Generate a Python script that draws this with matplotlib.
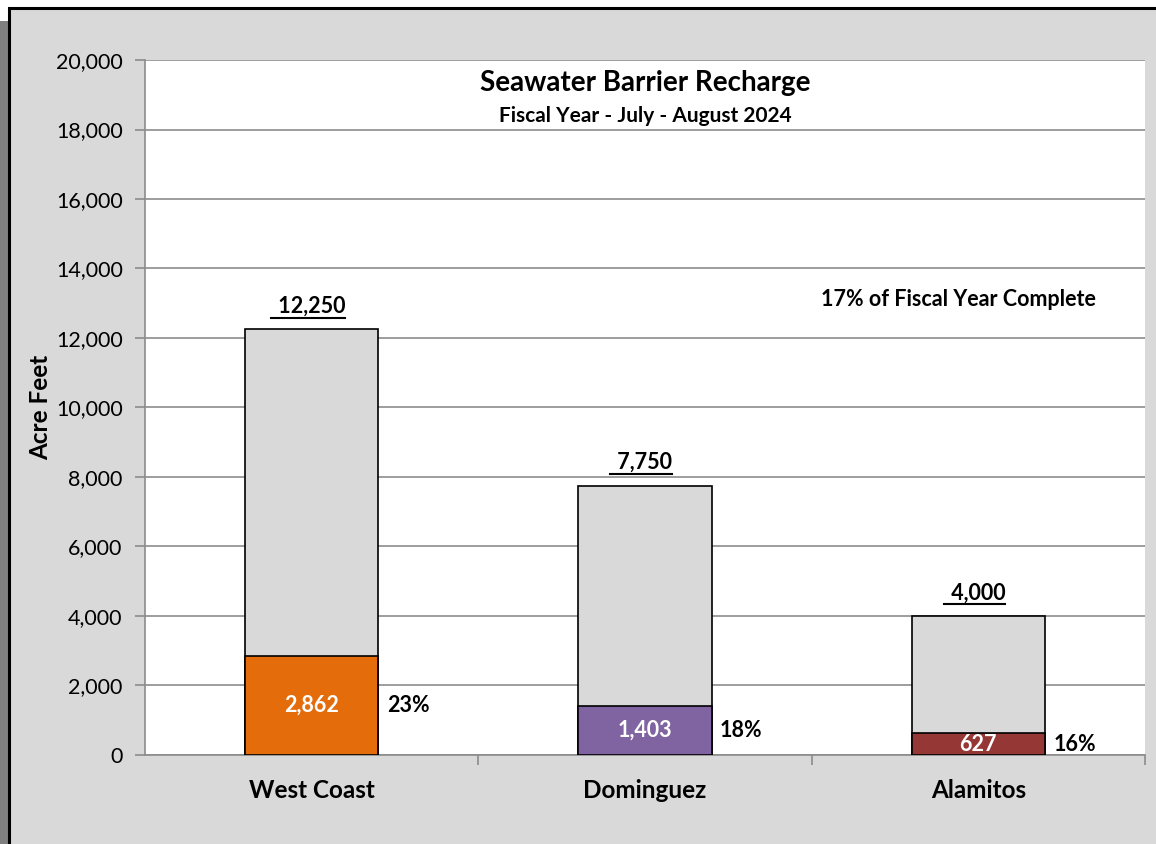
import matplotlib.pyplot as plt
from matplotlib.patches import Rectangle
from matplotlib.lines import Line2D

plt.rcParams['font.family'] = ['Lato', 'DejaVu Sans']

# data
barriers = ['West Coast', 'Dominguez', 'Alamitos']
fy_totals = [12250, 7750, 4000]
to_date = [2862, 1403, 627]
pct_labels = ['23%', '18%', '16%']
bar_colors = ['#e46c0a', '#8064a2', '#953735']
fy_complete = '17% of Fiscal Year Complete'
yticks = list(range(0, 20001, 2000))

fig = plt.figure(figsize=(11.56, 8.44), dpi=100, facecolor='white')

# shadow + framed chart area
fig.patches.append(Rectangle((0, 0), 0.012, 0.975, transform=fig.transFigure,
                             facecolor='#7f7f7f', edgecolor='none', zorder=0))
fig.patches.append(Rectangle((0.0075, -0.01), 1.0, 1.0 - 0.0095 + 0.01, transform=fig.transFigure,
                             facecolor='#d9d9d9', edgecolor='black', linewidth=2.2, zorder=1))

ax = fig.add_axes([0.1254, 0.1055, 0.9905 - 0.1254, 0.9289 - 0.1055])
ax.set_facecolor('white')
ax.set_zorder(2)

x = range(len(barriers))
ax.bar(x, fy_totals, width=0.4, color='#d9d9d9', edgecolor='black', linewidth=1.2, zorder=3)
ax.bar(x, to_date, width=0.4, color=bar_colors, edgecolor='black', linewidth=1.2, zorder=4)

ax.set_xlim(-0.5, 2.5)
ax.set_ylim(0, 20000)
ax.set_yticks(yticks)
ax.set_yticklabels([f'{v:,}' for v in yticks], fontsize=15.5)
ax.yaxis.grid(True, color='#8c8c8c', linewidth=1.2)
ax.set_axisbelow(True)
ax.set_xticks(list(x))
ax.set_xticklabels(barriers, fontsize=17.5, fontweight='bold')
ax.set_xticks([0.5, 1.5, 2.5], minor=True)
ax.tick_params(axis='x', which='major', length=0, pad=17)
ax.tick_params(axis='x', which='minor', length=7, color='#8c8c8c', width=1.2)
ax.tick_params(axis='y', length=7, color='#8c8c8c', width=1.2, pad=9)
for side in ['top', 'right']:
    ax.spines[side].set_visible(False)
for side in ['left', 'bottom']:
    ax.spines[side].set_color('#8c8c8c')
    ax.spines[side].set_linewidth(1.2)

ax.set_ylabel('Acre Feet', fontsize=17.5, fontweight='bold', labelpad=3)

ax.text(0.5, 0.967, 'Seawater Barrier Recharge', transform=ax.transAxes,
        ha='center', va='center', fontsize=20, fontweight='bold')
ax.text(0.5, 0.920, 'Fiscal Year - July - August 2024', transform=ax.transAxes,
        ha='center', va='center', fontsize=15, fontweight='bold')
ax.text(0.951, 0.655, fy_complete, transform=ax.transAxes,
        ha='right', va='center', fontsize=15.5, fontweight='bold')

total_texts = []
for i in x:
    t = ax.annotate(f' {fy_totals[i]:,}', (i, fy_totals[i]), xytext=(-2, 9),
                    textcoords='offset points', ha='center', va='bottom',
                    fontsize=15.5, fontweight='bold', zorder=5)
    total_texts.append(t)
    ax.text(i, to_date[i] / 2, f'{to_date[i]:,}', ha='center', va='center',
            fontsize=15.5, fontweight='bold', color='white', zorder=5)
    ax.annotate(pct_labels[i], (i + 0.2, to_date[i] / 2), xytext=(6, 0),
                textcoords='offset points', ha='left', va='center',
                fontsize=15.5, fontweight='bold', zorder=5)

# underline the total labels
fig.canvas.draw()
renderer = fig.canvas.get_renderer()
inv = fig.transFigure.inverted()
for t in total_texts:
    bb = t.get_window_extent(renderer)
    (x0, y0), (x1, _) = inv.transform([(bb.x0 - 2, bb.y0 - 1), (bb.x1, bb.y0)])
    fig.lines.append(Line2D([x0, x1], [y0, y0], transform=fig.transFigure,
                            color='black', linewidth=1.5, zorder=10))

fig.savefig('out.png', dpi=100, facecolor=fig.get_facecolor())
